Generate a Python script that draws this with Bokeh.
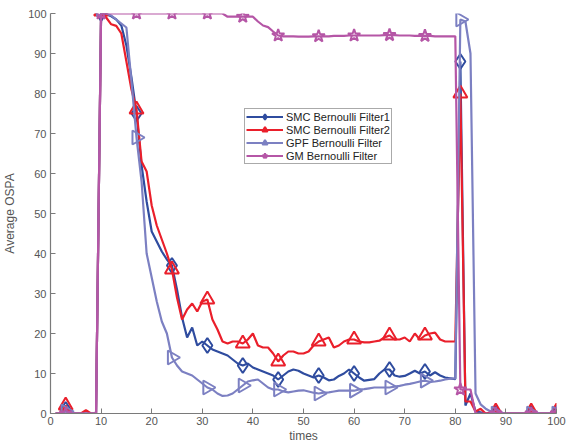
import math
from bokeh.plotting import figure
from bokeh.models import Range1d, Legend, LegendItem, FixedTicker
from bokeh.embed import file_html
from bokeh.resources import INLINE

times = list(range(1, 101))

smc1 = [0, 0, 1, 0, 0, 0, 0, 0, 0, 100,
        99.8, 99.3, 98.5, 97, 92, 84, 75, 62, 53, 45.5,
        43, 40.5, 38.5, 37, 31, 24, 19, 21.5, 17, 18,
        17, 16, 15.5, 15, 14.5, 13.5, 12.5, 12, 12.5, 11.5,
        11, 10.5, 10, 9.5, 8.5, 9.5, 10.5, 11, 10.7, 10,
        9.5, 9, 9.5, 9, 8.3, 8.5, 9.4, 10, 11, 10,
        9, 8.2, 8.4, 8.6, 10, 11, 11, 9.5, 9.2, 9.4,
        10, 10.7, 10, 10.5, 9.5, 10.3, 9.5, 9, 8.8, 8.6,
        88, 2, 5, 0.5, 0.3, 0, 0, 0, 0, 0,
        0, 0, 0, 0, 0, 0, 0, 0, 0, 0]

smc2 = [0, 0, 2, 0, 0, 0, 0.8, 0, 0, 100.5,
        99, 97.3, 96.9, 95, 88, 81, 76, 63, 60.5, 52,
        47, 43.5, 40, 36, 29, 23.5, 26, 27.5, 25.5, 28,
        28.5, 23.5, 21, 18, 17.5, 18, 18, 17.5, 18.5, 20,
        17, 16.5, 16.5, 15, 13, 14.5, 15.5, 15.5, 15, 15,
        15.5, 17, 18, 18.5, 19, 16.5, 17, 18, 18.5, 18.5,
        18, 17.8, 17.8, 18, 18.2, 19, 19.5, 18.5, 18.5, 19,
        18, 20, 18.5, 19.5, 20, 20.2, 18.5, 18, 18, 18,
        80, 3, 3, 0.5, 1.2, 0, 0.3, 0.5, 0, 0,
        0, 0, 0, 0, 0.5, 0, 0, 0, 0, 0.5]

gpf = [0, 0, 0.5, 0, 0, 0, 0, 0, 0, 101,
       100, 99.5, 98.5, 97.5, 96.5, 83, 69, 58, 40, 34,
       28, 23, 20, 14, 12, 10.5, 10, 9.5, 8.5, 7.5,
       6.5, 6, 5, 4.4, 4.5, 5, 6, 7, 8, 8.3,
       8.5, 7.5, 6.5, 6, 6, 5.5, 5.3, 5.5, 5.7, 5.8,
       5.5, 5.2, 5, 5.2, 5.3, 5.5, 5.7, 5.7, 5.7, 5.7,
       6, 6.1, 6.3, 6.5, 6.5, 6.5, 6.5, 6.7, 6.9, 7.2,
       7.4, 7.7, 8, 8.2, 7.9, 8, 8.2, 8.5, 8.7, 8.8,
       98.5, 98, 90, 5, 2.3, 1.2, 0.5, 0, 0, 0,
       0, 0, 0, 0, 0, 0, 0, 0, 0, 0]

gm = [0, 0, 0, 0, 0, 0, 0, 0, 0, 100,
      100, 100, 100, 100, 100, 100, 100, 100, 100, 100,
      100, 100, 100, 100, 100, 100, 100, 100, 100, 100,
      100, 100, 100, 100, 99.2, 99.2, 99.2, 99.2, 99.2, 99.2,
      98, 97, 96.6, 95.5, 94.5, 94.3, 94.3, 94.3, 94.2, 94.2,
      94.2, 94.3, 94.3, 94.3, 94.3, 94.4, 94.4, 94.4, 94.5, 94.5,
      94.5, 94.5, 94.5, 94.5, 94.5, 94.6, 94.6, 94.6, 94.5, 94.5,
      94.5, 94.4, 94.4, 94.4, 94.4, 94.3, 94.3, 94.3, 94.3, 94.3,
      6, 6, 6, 0, 0, 0, 0, 0, 0, 0,
      0, 0, 0, 0, 0, 0, 0, 0, 0, 0]

marker_times = [3, 10, 17, 24, 31, 38, 45, 53, 60, 67, 74, 81, 88, 95, 100]

labels = ["SMC Bernoulli Filter1", "SMC Bernoulli Filter2",
          "GPF Bernoulli Filter", "GM Bernoulli Filter"]
x_ticks = list(range(0, 101, 10))
y_ticks = list(range(0, 101, 10))

FONT = "Liberation Sans"

p = figure(width=566, height=448, output_backend="svg", toolbar_location=None,
           x_range=Range1d(0, 100), y_range=Range1d(0, 100),
           min_border_left=49, min_border_right=10,
           min_border_top=13, min_border_bottom=35)
p.outline_line_color = None
p.xgrid.visible = False
p.ygrid.visible = False

for ax in (p.xaxis[0], p.yaxis[0]):
    ax.axis_line_color = "#7a7a7a"
    ax.axis_line_width = 1.2
    ax.major_tick_line_color = "#7a7a7a"
    ax.major_tick_in = 5
    ax.major_tick_out = 0
    ax.minor_tick_line_color = None
    ax.major_label_text_font = FONT
    ax.major_label_text_font_size = "11px"
    ax.major_label_text_color = "#555555"
    ax.axis_label_text_font = FONT
    ax.axis_label_text_font_size = "12px"
    ax.axis_label_text_font_style = "normal"
    ax.axis_label_text_color = "#555555"

p.xaxis[0].ticker = FixedTicker(ticks=x_ticks)
p.yaxis[0].ticker = FixedTicker(ticks=y_ticks)
p.xaxis[0].axis_label = "times"
p.yaxis[0].axis_label = "Average OSPA"
p.xaxis[0].major_label_standoff = 3
p.xaxis[0].axis_label_standoff = 1
p.yaxis[0].major_label_standoff = 4
p.yaxis[0].axis_label_standoff = 8

series = [
    (smc1, "#2f4c9f", "diamond", 15, 0.0),
    (smc2, "#ea1f2b", "triangle", 14, 0.0),
    (gpf, "#7c80c2", "triangle", 14, -math.pi / 2),
    (gm, "#b556a6", "star", 13, 0.0),
]

items = []
for (vals, color, marker, size, ang), label in zip(series, labels):
    ln = p.line(times, vals, line_color=color, line_width=2.2)
    my = [vals[t - 1] for t in marker_times]
    sc = p.scatter(marker_times, my, marker=marker, size=size, angle=ang,
                   fill_color=None, line_color=color, line_width=2)
    items.append(LegendItem(label=label, renderers=[ln, sc]))

legend = Legend(items=items, location=(194, 249))
legend.label_text_font = FONT
legend.label_text_font_size = "11px"
legend.label_text_color = "#222222"
legend.glyph_width = 37
legend.glyph_height = 13
legend.label_height = 13
legend.spacing = 0
legend.padding = 1
legend.margin = 0
legend.label_standoff = 3
legend.border_line_color = "#555555"
legend.border_line_width = 1
legend.background_fill_alpha = 1.0
p.add_layout(legend, "center")

open("out.html", "w").write(file_html(p, INLINE))
